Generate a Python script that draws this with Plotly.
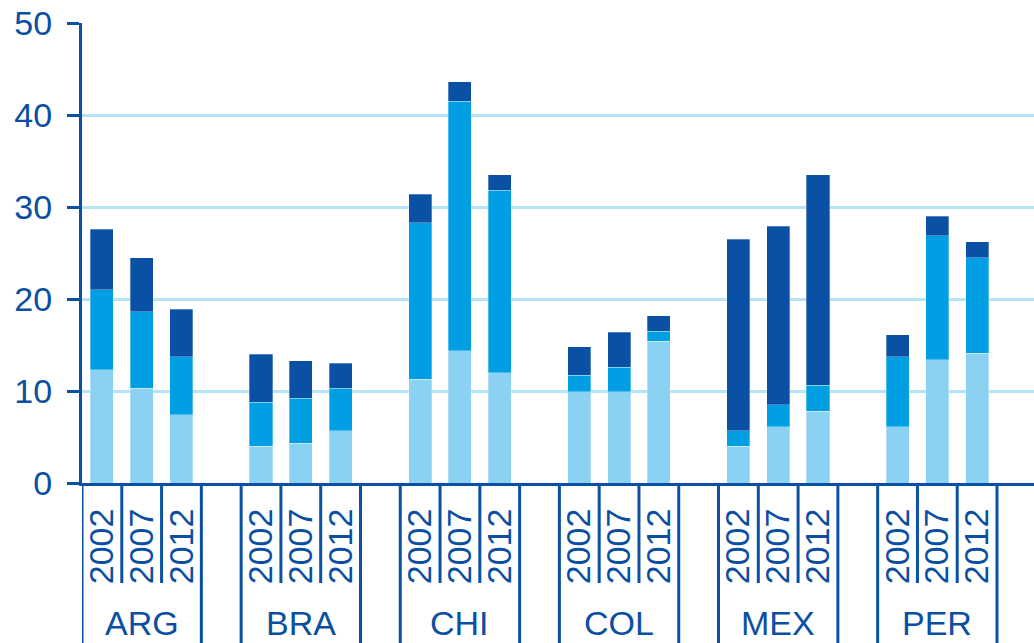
import plotly.graph_objects as go

countries = ["ARG", "BRA", "CHI", "COL", "MEX", "PER"]
years = ["2002", "2007", "2012"]

# stacked segments (bottom -> top), same order as countries x years
light = [12.3, 10.3, 7.4, 4.0, 4.3, 5.7, 11.3, 14.4, 12.0,
         9.9, 9.9, 15.4, 4.0, 6.1, 7.8, 6.1, 13.4, 14.1]
medium = [8.7, 8.3, 6.3, 4.8, 4.9, 4.6, 17.0, 27.1, 19.8,
          1.8, 2.7, 1.1, 1.7, 2.4, 2.8, 7.6, 13.5, 10.4]
dark = [6.6, 5.9, 5.2, 5.2, 4.1, 2.7, 3.1, 2.1, 1.7,
        3.1, 3.8, 1.7, 20.8, 19.4, 22.9, 2.4, 2.1, 1.7]

C_LIGHT = "#8BD1F2"
C_MED = "#009FE3"
C_DARK = "#0A50A5"
TXT = "#0B4FA3"
GRID = "#B5E4F8"
FONT = "Liberation Sans"

SLOTS = 4  # 3 bars + 1 empty slot per country group
xpos = [SLOTS * g + j for g in range(len(countries)) for j in range(len(years))]
ticktext = [y for c in countries for y in years]

fig = go.Figure()
for vals, col in ((light, C_LIGHT), (medium, C_MED), (dark, C_DARK)):
    fig.add_bar(x=xpos, y=vals, width=0.58,
                marker=dict(color=col, line=dict(width=0.6, color="rgba(255,255,255,0.5)")))

fig.update_layout(
    barmode="stack", width=1034, height=643,
    margin=dict(l=82, r=0, t=23, b=160),
    plot_bgcolor="white", paper_bgcolor="white", showlegend=False,
    font=dict(family=FONT, color=TXT),
)
fig.update_yaxes(range=[0, 50], dtick=10, showgrid=True, gridcolor=GRID, gridwidth=2.5,
                 showline=True, linecolor=C_DARK, linewidth=3, zeroline=False,
                 ticks="outside", ticklen=12, tickwidth=3, tickcolor=C_DARK,
                 tickfont=dict(size=34, color=TXT), ticklabelstandoff=8)
fig.update_xaxes(range=[-0.5, 23.43], tickvals=xpos, ticktext=ticktext, tickangle=-90,
                 showline=True, linecolor=C_DARK, linewidth=3, showgrid=False,
                 zeroline=False, ticks="", tickfont=dict(size=34, color=TXT),
                 ticklabelstandoff=9)

shapes = []
for g in range(len(countries)):
    for b in (SLOTS * g - 0.5, SLOTS * g + len(years) - 0.5):
        shapes.append(dict(type="line", xref="x", yref="paper", x0=b, x1=b,
                           y0=0, y1=-0.36, line=dict(color=C_DARK, width=3)))
    for j in range(1, len(years)):
        b = SLOTS * g + j - 0.5
        shapes.append(dict(type="line", xref="x", yref="paper", x0=b, x1=b,
                           y0=0, y1=-0.2174, line=dict(color=C_DARK, width=3)))
    fig.add_annotation(x=SLOTS * g + 1, y=-0.304, xref="x", yref="paper",
                       text=countries[g], showarrow=False, yanchor="middle",
                       font=dict(size=34, color=TXT, family=FONT))
fig.update_layout(shapes=shapes)

fig.write_html("out.html")
